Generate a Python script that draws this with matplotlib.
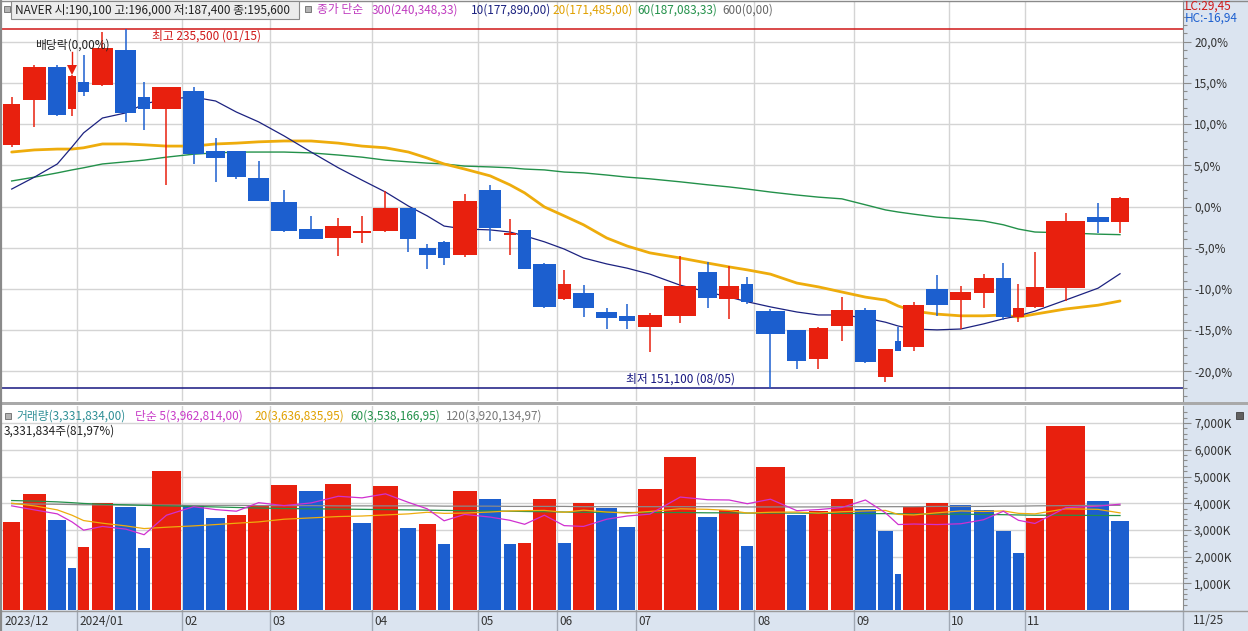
import numpy as np
import matplotlib
matplotlib.use("Agg")
import matplotlib.pyplot as plt
from matplotlib.patches import Rectangle

plt.rcParams['font.family'] = ['Noto Sans CJK KR', 'DejaVu Sans']

# ---------------- data ----------------
month_labels = ["2023/12", "2024/01", "02", "03", "04", "05", "06", "07", "08", "09", "10", "11"]
month_start_idx = [0, 4, 9, 13, 17, 22, 26, 30, 35, 39, 44, 48]
last_label = "11/25"

opens = [208200, 218700, 226500, 216600, 223000, 222300, 230500, 219400, 216600, 220900,
         206700, 206700, 200400, 194800, 188400, 186300, 187500, 187900, 193300, 183900,
         185400, 182300, 197600, 187000, 188200, 180200, 172000, 173400, 168900, 168000,
         165400, 168000, 178300, 172000, 175500, 169100, 164700, 157900, 165600, 169400,
         153600, 162100, 160700, 174300, 171700, 173400, 176900, 167700, 170100, 174500,
         191200, 190100]
highs = [219400, 227000, 227000, 224500, 229300, 234700, 235500, 223000, 221800, 221800,
         209800, 206700, 204400, 197600, 191500, 191000, 191500, 197300, 193400, 184900,
         185600, 196600, 198800, 190800, 188200, 180400, 178800, 175200, 169800, 170800,
         168600, 182100, 180700, 179700, 177100, 169600, 164700, 165400, 172400, 169800,
         160200, 165400, 171300, 177600, 175000, 177800, 180400, 175500, 183000, 192200,
         194500, 196000]
lows = [207700, 212400, 215000, 215000, 219700, 222000, 213600, 211700, 198800, 203700,
        199500, 200200, 194900, 187800, 186000, 182100, 185100, 187800, 183000, 179000,
        179900, 181800, 185600, 182300, 178900, 169900, 171800, 167700, 164900, 164900,
        159500, 166300, 169800, 167300, 170800, 151100, 155500, 155500, 162100, 156900,
        152400, 159700, 159700, 168000, 164900, 169800, 167000, 166500, 169900, 171500,
        187500, 187400]
closes = [217800, 226500, 215200, 224400, 220600, 231000, 215700, 216600, 221800, 206000,
          205100, 200600, 195000, 187900, 186100, 189100, 187700, 193300, 186100, 182300,
          181600, 195000, 188600, 187500, 179000, 170100, 175500, 169800, 167500, 166800,
          168200, 175000, 172200, 175000, 171300, 163700, 157400, 165100, 169400, 157100,
          160200, 159700, 170500, 170500, 173600, 176900, 167700, 169800, 174800, 190300,
          190100, 195600]
volume_k = [3300, 4350, 3380, 1560, 2350, 4000, 3860, 2320, 5220, 3950,
            3450, 3560, 3900, 4680, 4450, 4720, 3260, 4660, 3080, 3230,
            2480, 4450, 4150, 2480, 2500, 4150, 2520, 4000, 3820, 3100,
            4520, 5720, 3500, 3760, 2400, 5360, 3560, 3720, 4150, 3800,
            2950, 1360, 3850, 4020, 3950, 3740, 2950, 2120, 3450, 6880,
            4065, 3332]

ma10 = [197800, 200600, 203700, 207700, 211000, 214500, 215700, 217800, 219000, 219400,
        218500, 215900, 213600, 210300, 206500, 202800, 199900, 197100, 193800, 191500,
        189100, 188400, 188200, 187700, 186800, 185400, 183700, 181600, 180200, 179200,
        177800, 175200, 173600, 172400, 171300, 170100, 168900, 168200, 168200, 167500,
        166500, 165600, 164900, 164700, 164900, 166100, 167300, 168000, 169100, 171700,
        174500, 177890]
ma20 = [206500, 207000, 207200, 207200, 207500, 208400, 208400, 208200, 207900, 207900,
        208400, 208600, 208900, 209100, 209100, 208600, 207900, 207500, 206500, 205100,
        203700, 202500, 200900, 198800, 196900, 193600, 191500, 189400, 186300, 184400,
        182800, 181600, 180400, 179500, 178800, 177800, 175700, 174800, 173600, 172400,
        171700, 170300, 169100, 168400, 168000, 168000, 168200, 167700, 168400, 169600,
        170500, 171485]
ma60 = [199700, 200600, 201600, 202300, 202800, 203700, 204200, 204600, 205300, 206000,
        206300, 206500, 206500, 206500, 206300, 205800, 205300, 204600, 204200, 203900,
        203700, 203200, 203000, 202800, 202500, 202300, 201800, 201600, 201100, 200600,
        200200, 199500, 198800, 198300, 197800, 197100, 196400, 195900, 195500, 194100,
        192900, 192400, 191900, 191200, 190800, 190300, 189400, 188400, 187700, 187500,
        187200, 187083]

vma5_k = [3900, 3750, 3600, 3300, 2990, 3130, 3030, 2820, 3550, 3870,
          3760, 3700, 4020, 3910, 4010, 4260, 4200, 4350, 4030, 3790,
          3340, 3580, 3480, 3360, 3210, 3550, 3160, 3130, 3400, 3520,
          3590, 4230, 4130, 4120, 3980, 4150, 3720, 3760, 3840, 4120,
          3640, 3200, 3220, 3200, 3230, 3380, 3700, 3360, 3240, 3830,
          3890, 3963]
vma20_k = [4000, 3900, 3750, 3550, 3350, 3250, 3150, 3050, 3100, 3150,
           3200, 3250, 3300, 3400, 3450, 3500, 3520, 3560, 3600, 3660,
           3620, 3630, 3670, 3710, 3720, 3730, 3660, 3740, 3670, 3630,
           3690, 3790, 3770, 3730, 3630, 3660, 3670, 3630, 3680, 3710,
           3730, 3580, 3560, 3640, 3710, 3690, 3710, 3620, 3600, 3790,
           3770, 3637]
vma60_k = [4100, 4080, 4050, 4020, 3990, 3960, 3940, 3920, 3900, 3880,
           3860, 3840, 3820, 3800, 3790, 3780, 3770, 3760, 3750, 3740,
           3730, 3720, 3710, 3700, 3690, 3680, 3670, 3660, 3660, 3650,
           3650, 3650, 3640, 3640, 3630, 3630, 3630, 3620, 3620, 3610,
           3610, 3600, 3600, 3590, 3590, 3580, 3570, 3560, 3550, 3550,
           3540, 3538]
vma120_k = [3980, 3970, 3960, 3950, 3940, 3940, 3930, 3930, 3930, 3920,
            3920, 3920, 3910, 3910, 3910, 3900, 3900, 3900, 3900, 3900,
            3890, 3890, 3890, 3880, 3880, 3880, 3880, 3870, 3870, 3870,
            3870, 3870, 3870, 3870, 3860, 3860, 3860, 3860, 3870, 3870,
            3870, 3870, 3870, 3880, 3880, 3880, 3890, 3890, 3900, 3910,
            3920, 3920]

base_price = 193700
pct_ticks = [-20, -15, -10, -5, 0, 5, 10, 15, 20]
vol_ticks_k = [1000, 2000, 3000, 4000, 5000, 6000, 7000]
high_price, high_date = 235500, "01/15"
low_price, low_date = 151100, "08/05"
div_idx = 3

# ---------------- layout ----------------
W, H = 1248, 631
fig = plt.figure(figsize=(W / 100, H / 100), dpi=100)
fig.patch.set_facecolor('white')


def rect(x0, y0, x1, y1):
    return [x0 / W, 1 - y1 / H, (x1 - x0) / W, (y1 - y0) / H]


def fx(px):
    return px / W


def fy(py):
    return 1 - py / H


RED = '#e8200e'
BLUE = '#1c5fcf'
PANEL = '#dbe4f0'
GRID = '#d4d4d4'
AXC = '#8c8c8c'
TXT = '#333333'
FS = 8.5

# figure-level backgrounds
fig.add_artist(Rectangle((fx(1183), 0), 1 - fx(1183), 1, transform=fig.transFigure,
                         facecolor=PANEL, edgecolor='none', zorder=-5))
fig.add_artist(Rectangle((0, fy(631)), 1, fy(610) - fy(631), transform=fig.transFigure,
                         facecolor=PANEL, edgecolor='none', zorder=-5))
fig.add_artist(Rectangle((0, fy(405)), 1, fy(401.5) - fy(405), transform=fig.transFigure,
                         facecolor='#a9a9a9', edgecolor='none', zorder=-4))

vol = np.array(volume_k, dtype=float)
total = vol.sum()
scale = 1128.0 / total  # px per unit
left = np.cumsum(vol) - vol
gap = 2.2 / scale
width = vol - gap
center = left + width / 2
xmin, xmax = -1.0 / scale, 1180.0 / scale

o = np.array(opens, float)
hgh = np.array(highs, float)
lw_ = np.array(lows, float)
c = np.array(closes, float)
up = c >= o
ccol = [RED if u else BLUE for u in up]

# ---------------- price panel ----------------
ax = fig.add_axes(rect(2, 1, 1183, 401))
pmax = base_price * (1 + 205.5 / 824)
pmin = base_price * (1 - 194.5 / 824)
ax.set_xlim(xmin, xmax)
ax.set_ylim(pmin, pmax)
ppp = (pmax - pmin) / 400.0

for p in pct_ticks:
    ax.axhline(base_price * (1 + p / 100), color=GRID, lw=1, zorder=0)
for i in month_start_idx[1:]:
    ax.axvline(left[i] - 1.2 / scale, color=GRID, lw=1, zorder=0)

ax.axhline(high_price, color='#d01818', lw=1.1, zorder=1)
ax.axhline(low_price, color='#161680', lw=1.1, zorder=1)

ax.plot(center, ma60, color='#23914a', lw=1.0, zorder=2)
ax.plot(center, ma20, color='#eeac0c', lw=2.0, zorder=2, solid_capstyle='round')
ax.plot(center, ma10, color='#1c2280', lw=0.9, zorder=2)

ax.vlines(center, lw_, hgh, colors=ccol, lw=1.1, zorder=3)
body_lo = np.minimum(o, c)
body_h = np.maximum(np.abs(c - o), ppp * 1.5)
ax.bar(left, body_h, width=width, bottom=body_lo, align='edge', color=ccol,
       edgecolor='none', linewidth=0, zorder=4)

# high / low labels
hi_i = int(np.argmax(hgh))
lo_i = int(np.argmin(lw_))
ax.annotate(f"최고 {high_price:,} ({high_date})", xy=(center[hi_i], high_price),
            xytext=(26, -7), textcoords='offset pixels', ha='left', va='center',
            fontsize=FS, color='#d01818', zorder=6)
ax.annotate(f"최저 {low_price:,} ({low_date})", xy=(center[lo_i], low_price),
            xytext=(-35, 9), textcoords='offset pixels', ha='right', va='center',
            fontsize=FS, color='#161680', zorder=6)

# dividend marker
dx = center[div_idx]
dh = hgh[div_idx]
ax.plot([dx, dx], [dh + 8 * ppp, dh + 23 * ppp], color='#e8200e', lw=1.0, zorder=5)
ax.plot([dx], [dh + 5.0 * ppp], marker='v', markersize=6.5, color='#e8200e',
        markeredgewidth=0, zorder=5)
ax.text(dx, dh + 30 * ppp, "배당락(0,00%)", ha='center', va='center', fontsize=FS,
        color='#222222', zorder=6)

ax.yaxis.tick_right()
ax.set_yticks([base_price * (1 + p / 100) for p in pct_ticks])
ax.set_yticklabels([f"{p:.1f}%".replace('.', ',') for p in pct_ticks])
ax.set_yticks([base_price * (1 + p / 100) for p in range(-23, 25)], minor=True)
ax.tick_params(axis='y', which='major', length=6, width=0.8, color=AXC, labelsize=FS,
               labelcolor=TXT, pad=2)
ax.tick_params(axis='y', which='minor', length=3, width=0.8, color=AXC)
ax.set_xticks([])
for s in ['left', 'top', 'bottom']:
    ax.spines[s].set_visible(False)
ax.spines['right'].set_color(AXC)

# ---------------- volume panel ----------------
axv = fig.add_axes(rect(2, 406, 1183, 610))
axv.set_xlim(xmin, xmax)
axv.set_ylim(0, 204 / 26.7 * 1000)
for t in vol_ticks_k:
    axv.axhline(t, color=GRID, lw=1, zorder=0)
for i in month_start_idx[1:]:
    axv.axvline(left[i] - 1.2 / scale, color=GRID, lw=1, zorder=0)
vcol = [RED] + [RED if vol[i] >= vol[i - 1] else BLUE for i in range(1, len(vol))]
axv.bar(left, vol, width=width, align='edge', color=vcol, edgecolor='none', linewidth=0, zorder=2)
axv.plot(center, vma120_k, color='#8a8a8a', lw=0.9, zorder=3)
axv.plot(center, vma60_k, color='#23914a', lw=0.9, zorder=3)
axv.plot(center, vma20_k, color='#eeac0c', lw=0.9, zorder=3)
axv.plot(center, vma5_k, color='#d030d0', lw=0.9, zorder=3)
axv.yaxis.tick_right()
axv.set_yticks(vol_ticks_k)
axv.set_yticklabels([f"{t:,}K" for t in vol_ticks_k])
axv.set_yticks(np.arange(200, 7600, 200), minor=True)
axv.tick_params(axis='y', which='major', length=6, width=0.8, color=AXC, labelsize=FS,
                labelcolor=TXT, pad=2)
axv.tick_params(axis='y', which='minor', length=3, width=0.8, color=AXC)
axv.set_xticks([])
for s in ['left', 'top', 'bottom']:
    axv.spines[s].set_visible(False)
axv.spines['right'].set_color(AXC)

# ---------------- date strip ----------------
axd = fig.add_axes(rect(2, 610, 1183, 631))
axd.set_xlim(xmin, xmax)
axd.set_ylim(0, 1)
axd.set_facecolor(PANEL)
axd.set_xticks([])
axd.set_yticks([])
for s in axd.spines.values():
    s.set_visible(False)
for lab, i in zip(month_labels, month_start_idx):
    xl = left[i] - 1.2 / scale
    if i > 0:
        axd.axvline(xl, color='#a0a8b4', lw=1)
    axd.text(xl + 2.5 / scale, 0.45, lab, ha='left', va='center', fontsize=FS, color=TXT)
fig.text(fx(1193), fy(621), last_label, ha='left', va='center', fontsize=FS, color=TXT)
fig.add_artist(plt.Line2D([fx(1183), fx(1183)], [fy(610), fy(631)], transform=fig.transFigure,
                          color='#a0a8b4', lw=1))
fig.add_artist(plt.Line2D([0, 1], [fy(610.5), fy(610.5)], transform=fig.transFigure,
                          color='#9a9a9a', lw=1))

# frame lines
fig.add_artist(plt.Line2D([fx(0.8), fx(0.8)], [0, 1], transform=fig.transFigure, color='#8a8a8a', lw=1.6))
fig.add_artist(plt.Line2D([0, 1], [fy(0.5), fy(0.5)], transform=fig.transFigure, color='#8a8a8a', lw=1))

# ---------------- header texts ----------------
def icon(x, y):
    fig.add_artist(Rectangle((fx(x), fy(y + 6)), 6 / W, 6 / H, transform=fig.transFigure,
                             facecolor='#b4b4b4', edgecolor='#6a6a6a', lw=0.6, zorder=10))

icon(4, 6)
fig.add_artist(Rectangle((fx(11), fy(19)), 288 / W, 18 / H, transform=fig.transFigure,
                         facecolor='#ececec', edgecolor='#8a8a8a', lw=0.8, zorder=9))
fig.text(fx(15), fy(10), "NAVER 시:190,100 고:196,000 저:187,400 종:195,600",
         ha='left', va='center', fontsize=FS, color='#222222', zorder=11)
icon(305, 6)
hdr = [(317, "종가 단순", '#c03cc0'), (372, "300(240,348,33)", '#c03cc0'),
       (471, "10(177,890,00)", '#1c2280'), (552, "20(171,485,00)", '#e0a000'),
       (637, "60(187,083,33)", '#23914a'), (722, "600(0,00)", '#666666')]
for x, s, col in hdr:
    fig.text(fx(x), fy(10), s, ha='left', va='center', fontsize=FS, color=col, zorder=11)

fig.text(fx(1185), fy(6.5), "LC:29,45", ha='left', va='center', fontsize=FS, color='#d01818')
fig.text(fx(1185), fy(18.5), "HC:-16,94", ha='left', va='center', fontsize=FS, color='#1c5fcf')

icon(5, 413)
vhdr = [(16, "거래량(3,331,834,00)", '#2f8f96'), (135, "단순 5(3,962,814,00)", '#c83cc8'),
        (254, "20(3,636,835,95)", '#e0a000'), (350, "60(3,538,166,95)", '#23914a'),
        (446, "120(3,920,134,97)", '#777777')]
for x, s, col in vhdr:
    fig.text(fx(x), fy(416), s, ha='left', va='center', fontsize=FS, color=col, zorder=11)
fig.text(fx(4), fy(431), "3,331,834주(81,97%)", ha='left', va='center', fontsize=FS,
         color='#222222', zorder=11)
fig.add_artist(Rectangle((fx(1236), fy(419)), 7 / W, 7 / H, transform=fig.transFigure,
                         facecolor='#606060', edgecolor='#404040', lw=0.6, zorder=10))

fig.savefig("out.png", dpi=100)
